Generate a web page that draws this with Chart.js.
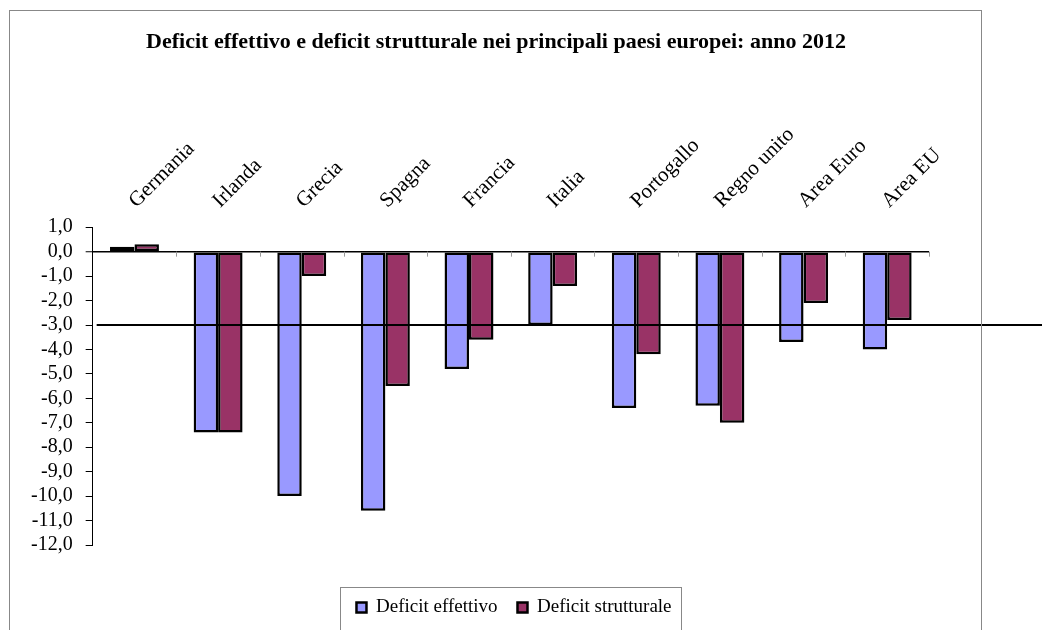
<!DOCTYPE html>
<html>
<head>
<meta charset="utf-8">
<script src="https://cdn.jsdelivr.net/npm/chart.js@4.4.1/dist/chart.umd.min.js"></script>
<style>
  body { margin: 0; background: #fff; }
  #wrap { position: relative; width: 1042px; height: 630px; overflow: hidden; }
  .frame { position: absolute; border: 1px solid #888; pointer-events: none; }
</style>
</head>
<body>
<div id="wrap">
  <canvas id="deficitChart" width="1042" height="630"></canvas>
  <div class="frame" style="left:9px;top:10px;width:971px;height:640px"></div>
  <div class="frame" style="left:340px;top:587px;width:340px;height:60px"></div>
</div>
<script>
const countries = ["Germania", "Irlanda", "Grecia", "Spagna", "Francia", "Italia", "Portogallo", "Regno unito", "Area Euro", "Area EU"];
const deficitEffettivo = [0.2, -7.4, -10.0, -10.6, -4.8, -3.0, -6.4, -6.3, -3.7, -4.0];
const deficitStrutturale = [0.3, -7.4, -1.0, -5.5, -3.6, -1.4, -4.2, -7.0, -2.1, -2.8];
const yMin = -12;
const yMax = 1;
const soglia = -3;

const serif = "'Liberation Serif', 'Times New Roman', serif";
Chart.defaults.color = "#000";
Chart.defaults.font.family = serif;

// extra bits: threshold line, small ticks on the zero line, title/legend placement
const extras = {
  id: "extras",
  afterLayout(chart) {
    const t = chart.titleBlock;
    const tdx = 496 - (t.left + t.right) / 2;
    t.left += tdx; t.right += tdx;
    const lg = chart.legend;
    const dx = 514 - (lg.left + lg.right) / 2;
    const dy = 578 - lg.top;
    lg.left += dx; lg.right += dx;
    lg.top += dy; lg.bottom += dy;
  },
  afterDatasetsDraw(chart) {
    const ctx = chart.ctx;
    const x = chart.scales.x;
    const y = chart.scales.y;
    const y0 = y.getPixelForValue(0);
    ctx.save();
    ctx.strokeStyle = "#999";
    ctx.lineWidth = 1;
    for (let i = 1; i <= countries.length; i++) {
      const px = i < countries.length
        ? (x.getPixelForValue(i - 1) + x.getPixelForValue(i)) / 2
        : x.right;
      ctx.beginPath();
      ctx.moveTo(Math.round(px) + 0.5, y0);
      ctx.lineTo(Math.round(px) + 0.5, y0 + 5);
      ctx.stroke();
    }
    const ys = y.getPixelForValue(soglia);
    ctx.strokeStyle = "#000";
    ctx.lineWidth = 2;
    ctx.beginPath();
    ctx.moveTo(x.left + 4, ys);
    ctx.lineTo(chart.width, ys);
    ctx.stroke();
    ctx.restore();
  }
};

const ctx = document.getElementById("deficitChart").getContext("2d");
new Chart(ctx, {
  type: "bar",
  data: {
    labels: countries,
    datasets: [
      { label: "Deficit effettivo", data: deficitEffettivo, backgroundColor: "#9999FF", borderColor: "#000", borderWidth: 2.5, borderSkipped: false },
      { label: "Deficit strutturale", data: deficitStrutturale, backgroundColor: "#993366", borderColor: "#000", borderWidth: 2.5, borderSkipped: false }
    ]
  },
  options: {
    responsive: false,
    animation: false,
    devicePixelRatio: 1,
    categoryPercentage: 0.585,
    barPercentage: 1,
    layout: { padding: { left: 18, right: 113, top: 0, bottom: 36 } },
    plugins: {
      title: {
        display: true,
        text: "Deficit effettivo e deficit strutturale nei principali paesi europei: anno 2012",
        font: { family: serif, size: 22, weight: "bold" },
        padding: { top: 29, bottom: 53 }
      },
      legend: {
        position: "bottom",
        labels: { boxWidth: 10, boxHeight: 10, padding: 20, font: { family: serif, size: 19 } }
      },
      tooltip: { enabled: false }
    },
    scales: {
      x: {
        position: "top",
        grid: { display: false, drawTicks: false },
        border: { display: false },
        ticks: { autoSkip: false, minRotation: 45, maxRotation: 45, padding: 14, labelOffset: 16, font: { family: serif, size: 21 } }
      },
      y: {
        min: yMin,
        max: yMax,
        border: { display: true, color: "#000", width: 1 },
        grid: {
          color: (c) => (c.tick && c.tick.value === 0 ? "#000" : "rgba(0,0,0,0)"),
          lineWidth: (c) => (c.tick && c.tick.value === 0 ? 1.5 : 1),
          tickColor: "#000",
          tickWidth: 1,
          tickLength: 7
        },
        ticks: {
          stepSize: 1,
          autoSkip: false,
          padding: 13,
          font: { family: serif, size: 20 },
          callback: (v) => v.toFixed(1).replace(".", ",")
        }
      }
    }
  },
  plugins: [extras]
});
</script>
</body>
</html>
